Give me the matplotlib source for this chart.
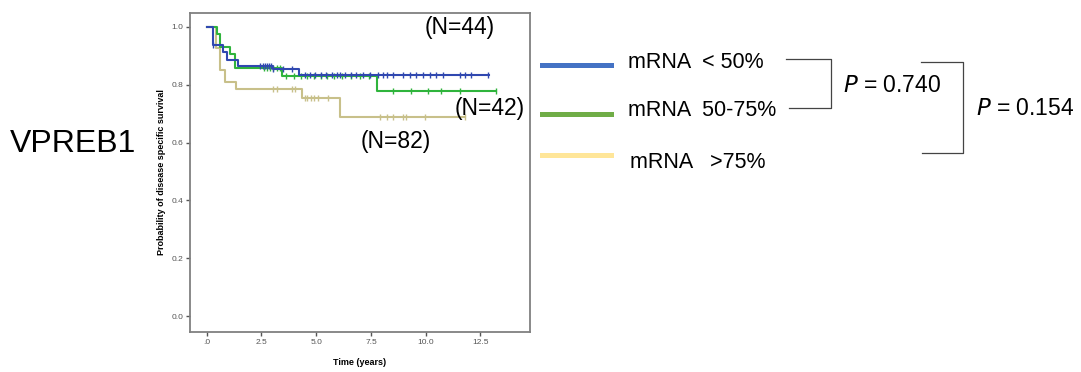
import numpy as np
import matplotlib
matplotlib.use("Agg")
import matplotlib.pyplot as plt

plt.rcParams['font.family'] = ['Liberation Sans', 'DejaVu Sans']

# Kaplan-Meier step data (time in years, survival after the step)
low_t = [0.0, 0.27, 0.75, 0.91, 1.43, 3.03, 4.2, 12.9]
low_s = [1.0, 0.937, 0.912, 0.884, 0.866, 0.853, 0.834, 0.834]
low_cens = [0.3, 2.45, 2.55, 2.65, 2.75, 2.85, 2.95, 3.04, 3.5, 3.9, 4.48, 4.71, 4.94,
            5.24, 5.47, 5.70, 5.93, 6.08, 6.31, 6.61, 6.84, 7.14, 7.45, 7.82, 8.05,
            8.21, 8.51, 8.97, 9.27, 9.57, 9.88, 10.18, 10.49, 10.79, 11.55, 11.78,
            12.08, 12.84]

mid_t = [0.0, 0.45, 0.61, 1.06, 1.29, 3.42, 7.78, 13.2]
mid_s = [1.0, 0.976, 0.930, 0.905, 0.857, 0.830, 0.779, 0.779]
mid_cens = [2.6, 2.75, 2.9, 3.05, 3.2, 3.34, 3.6, 4.0, 4.3, 4.6, 4.9, 5.2, 5.5, 5.8,
            6.2, 6.6, 7.0, 7.4, 8.51, 9.35, 10.11, 10.72, 11.55, 13.22]

high_t = [0.0, 0.42, 0.61, 0.83, 1.34, 4.33, 6.08, 11.78]
high_s = [1.0, 0.926, 0.851, 0.811, 0.784, 0.753, 0.687, 0.687]
high_cens = [3.04, 3.19, 3.88, 4.03, 4.48, 4.6, 4.75, 4.9, 5.09, 5.55,
             7.90, 8.21, 8.51, 8.97, 9.12, 9.96, 11.78]

curve_colors = ['#3048b0', '#2fb43c', '#c8c08a']
legend_colors = ['#4472c4', '#70ad47', '#ffe699']
legend_labels = ['mRNA  < 50%', 'mRNA  50-75%', 'mRNA   >75%']
n_labels = ['(N=44)', '(N=42)', '(N=82)']
p_values = ['0.740', '0.154']
gene = 'VPREB1'

W, H = 1081, 372
fig = plt.figure(figsize=(W / 100, H / 100), dpi=100)
ax = fig.add_axes([190 / W, 1 - 332 / H, 340 / W, 319 / H])


def surv_at(times, surv, x):
    idx = np.searchsorted(times, x, side='right') - 1
    return np.array(surv)[idx]


groups = [(low_t, low_s, low_cens), (mid_t, mid_s, mid_cens), (high_t, high_s, high_cens)]
for (t, s, c), col in zip(groups[::-1], curve_colors[::-1]):
    ax.step(t, s, where='post', color=col, lw=1.5)
    ax.plot(c, surv_at(t, s, c), ls='none', marker='|', ms=5, mew=1, color=col)

ax.set_xlim(-0.76, 14.76)
ax.set_ylim(-0.055, 1.048)
ax.set_xticks([0, 2.5, 5, 7.5, 10, 12.5])
ax.set_xticklabels(['.0', '2.5', '5.0', '7.5', '10.0', '12.5'])
ax.set_yticks([0, 0.2, 0.4, 0.6, 0.8, 1.0])
ax.set_yticklabels(['0.0', '0.2', '0.4', '0.6', '0.8', '1.0'])
ax.tick_params(labelsize=6, colors='#555555', length=3, width=1, pad=2)
for sp in ax.spines.values():
    sp.set_color('#808080')
    sp.set_linewidth(1.3)
ax.set_xlabel('Time (years)', fontsize=6.5, fontweight='bold', labelpad=9)
ax.set_ylabel('Probability of disease specific survival', fontsize=6.5, fontweight='bold', labelpad=4)

# N labels (baseline placed in data coordinates)
ax.text(11.57, 0.975, n_labels[0], fontsize=16.5, ha='center', va='baseline')
ax.text(12.92, 0.696, n_labels[1], fontsize=16.5, ha='center', va='baseline')
ax.text(8.61, 0.582, n_labels[2], fontsize=16.5, ha='center', va='baseline')

# gene name
fig.text(10 / W, 1 - 152 / H, gene, fontsize=23, ha='left', va='baseline')

# legend
ly = [65.3, 114, 155.3]
lty = [68.3, 116, 168.3]
lx = [628, 628, 630]
for y, ty, x, col, lab in zip(ly, lty, lx, legend_colors, legend_labels):
    fig.add_artist(plt.Line2D([542 / W, 611 / W], [1 - y / H] * 2,
                              color=col, lw=3.6, transform=fig.transFigure))
    fig.text(x / W, 1 - ty / H, lab, fontsize=15.5, ha='left', va='baseline')


def bracket(x0, x1, y0, y1, x0b):
    xs = np.array([x0, x1, x1, x0b]) / W
    ys = 1 - np.array([y0, y0, y1, y1]) / H
    fig.add_artist(plt.Line2D(xs, ys, color='#444444', lw=0.9, transform=fig.transFigure))


bracket(786, 830.7, 59.3, 108.3, 789)
bracket(920.7, 962.7, 61.7, 152.7, 922.3)
fig.text(842.7 / W, 1 - 91.7 / H, r'$P$ = ' + p_values[0], fontsize=16.5, ha='left', va='baseline',
         math_fontfamily='custom')
fig.text(976 / W, 1 - 115 / H, r'$P$ = ' + p_values[1], fontsize=16.5, ha='left', va='baseline',
         math_fontfamily='custom')

fig.savefig('out.png', dpi=100)
